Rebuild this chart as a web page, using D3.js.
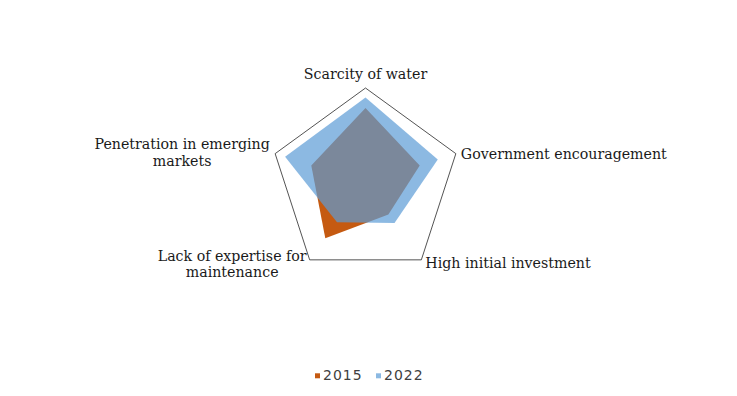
<!DOCTYPE html>
<html>
<head>
<meta charset="utf-8">
<script src="https://cdn.jsdelivr.net/npm/d3@7"></script>
<style>
  html, body { margin: 0; padding: 0; background: #fff; }
  svg { display: block; }
</style>
</head>
<body>
<svg id="chart" width="737" height="396"></svg>
<script>
// axes of the radar, clockwise from the top
const categories = [
  ['Scarcity of water'],
  ['Government encouragement'],
  ['High initial investment'],
  ['Lack of expertise for', 'maintenance'],
  ['Penetration in emerging', 'markets']
];
const series = ['2015', '2022'];
const values2015 = [7.9, 6.0, 4.1, 7.2, 6.0];
const values2022 = [9.0, 8.0, 5.2, 5.1, 8.9];
const maxValue = 10;

const svg = d3.select('#chart');
const cx = 365.5, cy = 183, R = 95;

const r = d3.scaleLinear().domain([0, maxValue]).range([0, R]);
const angle = d3.scaleLinear()
  .domain([0, categories.length])
  .range([0, 2 * Math.PI]);

const colors = d3.scaleOrdinal().domain(series).range(['#c55a11', '#5b9bd5']);
const opac = { '2015': 1, '2022': 0.7 };

const g = svg.append('g').attr('transform', `translate(${cx},${cy})`);

const radial = d3.lineRadial()
  .angle((d, i) => angle(i))
  .radius(d => r(d))
  .curve(d3.curveLinearClosed);

// outer pentagon
g.append('path')
  .attr('d', radial(categories.map(() => maxValue)))
  .attr('fill', 'none')
  .attr('stroke', '#404040')
  .attr('stroke-width', 0.9);

[values2015, values2022].forEach((vals, k) => {
  g.append('path')
    .attr('d', radial(vals))
    .attr('fill', colors(series[k]))
    .attr('fill-opacity', opac[series[k]])
    .attr('stroke', 'none');
});

// category labels
function vertex(i) {
  const a = angle(i);
  return [Math.sin(a) * R, -Math.cos(a) * R];
}
const labelPos = [
  { dx: 0, dy: -9, anchor: 'middle' },
  { dx: 5, dy: 5, anchor: 'start' },
  { dx: 4, dy: 8.5, anchor: 'start' },
  { dx: -77.5, dy: 1, anchor: 'middle' },
  { dx: -93, dy: -4.5, anchor: 'middle' }
];
categories.forEach((lines, i) => {
  const [x, y] = vertex(i);
  const p = labelPos[i];
  const t = g.append('text')
    .attr('x', x + p.dx)
    .attr('y', y + p.dy)
    .attr('text-anchor', p.anchor)
    .attr('font-family', '"DejaVu Serif", serif')
    .attr('font-size', 14.2)
    .attr('fill', '#1a1a1a');
  lines.forEach((line, j) => {
    t.append('tspan')
      .attr('x', x + p.dx)
      .attr('dy', j === 0 ? 0 : 16.5)
      .text(line);
  });
});

// legend
const legend = svg.append('g').attr('transform', 'translate(315,379.5)');
const lx = d3.scalePoint().domain(series).range([0, 61]);
series.forEach(s => {
  const lg = legend.append('g').attr('transform', `translate(${lx(s)},0)`);
  lg.append('rect')
    .attr('x', 0).attr('y', -6.2)
    .attr('width', 5).attr('height', 5)
    .attr('fill', colors(s))
    .attr('fill-opacity', opac[s]);
  lg.append('text')
    .attr('x', 8).attr('y', 0)
    .attr('font-family', '"DejaVu Sans", sans-serif')
    .attr('font-size', 14)
    .attr('letter-spacing', 1)
    .attr('fill', '#404040')
    .text(s);
});
</script>
</body>
</html>
